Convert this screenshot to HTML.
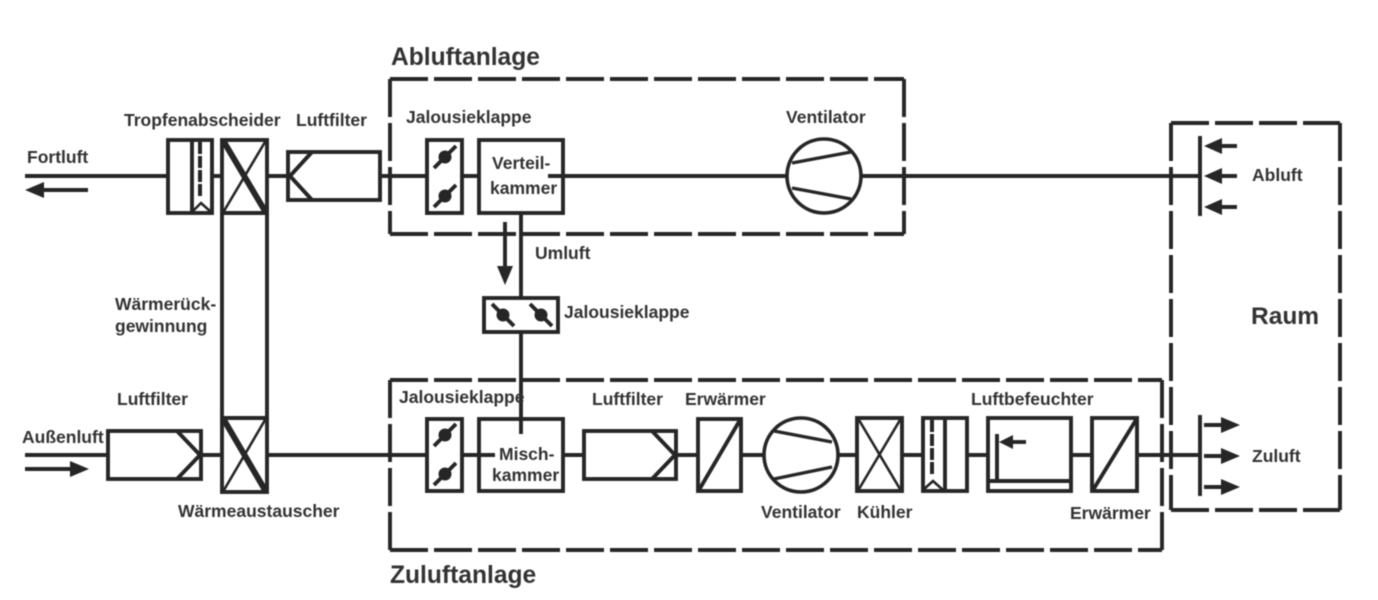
<!DOCTYPE html>
<html><head><meta charset="utf-8"><style>
html,body{margin:0;padding:0;background:#fff}
svg{display:block;filter:blur(0.4px)}
text{font-family:"Liberation Sans",sans-serif;font-weight:bold;fill:#333;font-size:17.5px}
.h{font-size:24.6px}
.b{fill:none;stroke:#262626;stroke-width:3.9}
.l{fill:none;stroke:#262626;stroke-width:3.9}
.t{fill:none;stroke:#262626;stroke-width:2.6}
.d{fill:none;stroke:#262626;stroke-width:3.9;stroke-dasharray:38 6}
.f{fill:#262626;stroke:none}
</style></head><body>
<svg width="1378" height="600" viewBox="0 0 1378 600" xmlns="http://www.w3.org/2000/svg">
<defs>
<g id="flap"><line x1="-11" y1="11" x2="11" y2="-11" stroke="#262626" stroke-width="3.9"/><circle r="6.5" fill="#262626"/></g>
<g id="flap2"><line x1="-11" y1="-11" x2="11" y2="11" stroke="#262626" stroke-width="3.9"/><circle r="6.5" fill="#262626"/></g>
</defs>
<!-- dashed boxes -->
<path class="d" d="M390 79H904M904 79V234M390 79V234M390 234H904"/>
<path class="d" d="M390 380H1162M1162 380V550M390 380V550M390 550H1162"/>
<path class="d" d="M1171 123H1340M1340 123V510M1171 123V510M1171 510H1340"/>
<!-- main lines -->
<path class="l" d="M25 176H168M212 176H222M267 176H288M380 176H427M462 176H479M548 176H786M862 176H1200"/>
<path class="l" d="M25 455H108M201 455H222M267 455H427M462 455H495M563 455H584M676 455H698M741 455H764M838 455H857M902 455H922M967 455H988M1071 455H1092M1137 455H1200"/>
<path class="l" d="M521 213V298M521 332V434"/>
<!-- arrows -->
<path class="l" d="M40 190H88"/><path class="f" d="M25 190L44 182V198Z"/>
<path class="l" d="M25 469H72"/><path class="f" d="M89 469L70 461V477Z"/>
<path class="l" d="M505 222V270"/><path class="f" d="M505 285L497 266H513Z"/>
<!-- Tropfenabscheider top -->
<rect class="b" x="168" y="140" width="44" height="73"/>
<path class="l" d="M192 140V213"/>
<path d="M200 142V198" stroke="#262626" stroke-width="4" stroke-dasharray="12 2" fill="none"/>
<path class="t" d="M192 212L201 203L211 212"/>
<!-- heat exchanger -->
<rect class="b" x="222" y="140" width="45" height="352"/>
<path class="l" d="M222 213H267M222 418H267"/>
<path d="M224 142L265 211" stroke="#262626" stroke-width="6" fill="none"/>
<path class="t" d="M265 142L224 211"/>
<path d="M224 420L265 490" stroke="#262626" stroke-width="6" fill="none"/>
<path class="t" d="M265 420L224 490"/>
<!-- filters -->
<rect class="b" x="288" y="152" width="92" height="48"/>
<path class="l" d="M312 152L290 176L312 200"/>
<rect class="b" x="108" y="431" width="93" height="48"/>
<path class="l" d="M177 431L200 455L177 479"/>
<rect class="b" x="584" y="431" width="92" height="48"/>
<path class="l" d="M652 431L675 455L652 479"/>
<!-- top jalousie + chamber -->
<rect class="b" x="427" y="140" width="35" height="73"/>
<use href="#flap" x="445" y="157"/><use href="#flap" x="445" y="196"/>
<rect class="b" x="479" y="140" width="84" height="73"/>
<!-- middle jalousie -->
<rect class="b" x="484" y="298" width="74" height="34"/>
<use href="#flap2" x="503" y="315"/><use href="#flap2" x="541" y="315"/>
<!-- bottom jalousie + chamber -->
<rect class="b" x="427" y="419" width="35" height="72"/>
<use href="#flap" x="445" y="435"/><use href="#flap" x="445" y="474"/>
<rect class="b" x="479" y="419" width="84" height="72"/>
<!-- heater 1 -->
<rect class="b" x="698" y="419" width="43" height="72"/>
<path class="l" d="M699 490L740 420"/>
<!-- fans -->
<circle class="t" style="stroke-width:3.6" cx="824" cy="176" r="37"/>
<path class="t" style="stroke-width:3.2" d="M792 163L851 152M792 188L851 199"/>
<circle class="t" style="stroke-width:3.6" cx="801" cy="455" r="37"/>
<path class="t" style="stroke-width:3.2" d="M774 431L832 442M774 479L832 467"/>
<!-- cooler -->
<rect class="b" x="857" y="418" width="45" height="73"/>
<path class="t" d="M859 420L900 489M900 420L859 489"/>
<!-- droplet sep bottom -->
<rect class="b" x="923" y="418" width="44" height="73"/>
<path class="l" d="M945 418V491"/>
<path d="M932 420V476" stroke="#262626" stroke-width="4" stroke-dasharray="12 2" fill="none"/>
<path class="t" d="M923 490L933 481L943 490"/>
<!-- humidifier -->
<rect class="b" x="988" y="418" width="83" height="73"/>
<path class="l" d="M989 481H1070M997 434V481"/>
<path class="l" d="M1010 442H1026"/><path class="f" d="M999 442L1013 435V449Z"/>
<!-- heater 2 -->
<rect class="b" x="1092" y="418" width="45" height="73"/>
<path class="l" d="M1093 490L1136 420"/>
<!-- room bars -->
<path class="l" d="M1200 136V216M1200 415V496"/>
<path class="l" d="M1215 146H1237M1215 176H1237M1215 207H1237"/>
<path class="f" d="M1204 146L1222 138V154ZM1204 176L1222 168V184ZM1204 207L1222 199V215Z"/>
<path class="l" d="M1204 425H1224M1204 456H1224M1204 487H1224"/>
<path class="f" d="M1240 425L1221 417V433ZM1240 456L1221 448V464ZM1240 487L1221 479V495Z"/>
<!-- text -->
<text class="h" x="391" y="65">Abluftanlage</text>
<text class="h" x="390" y="583">Zuluftanlage</text>
<text x="124" y="126">Tropfenabscheider</text>
<text x="296" y="126">Luftfilter</text>
<text x="406" y="123">Jalousieklappe</text>
<text x="786" y="123">Ventilator</text>
<text x="27" y="163">Fortluft</text>
<text x="492" y="169">Verteil-</text>
<text x="490" y="194">kammer</text>
<text x="535" y="259">Umluft</text>
<text x="564" y="318">Jalousieklappe</text>
<text x="115" y="310">Wärmerück-</text>
<text x="115" y="332">gewinnung</text>
<text x="117" y="405">Luftfilter</text>
<text x="22" y="443">Außenluft</text>
<text x="178" y="517">Wärmeaustauscher</text>
<text x="399" y="403">Jalousieklappe</text>
<text x="592" y="405">Luftfilter</text>
<text x="685" y="405">Erwärmer</text>
<text x="971" y="405">Luftbefeuchter</text>
<text x="499" y="460">Misch-</text>
<text x="492" y="481">kammer</text>
<text x="761" y="518">Ventilator</text>
<text x="857" y="518">Kühler</text>
<text x="1070" y="519">Erwärmer</text>
<text x="1252" y="181">Abluft</text>
<text x="1252" y="462">Zuluft</text>
<text x="1251" y="324" style="font-size:24.5px">Raum</text>
</svg>
</body></html>
